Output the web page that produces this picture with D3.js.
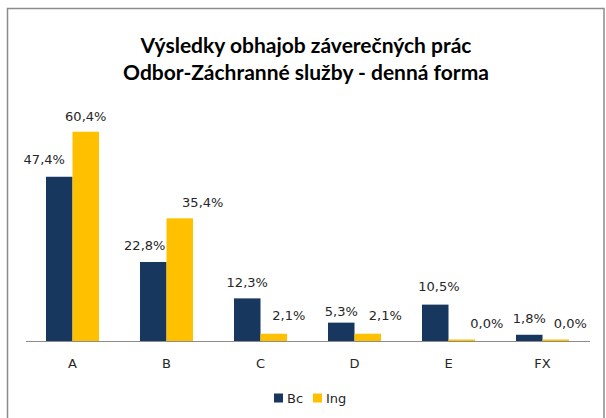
<!DOCTYPE html>
<html>
<head>
<meta charset="utf-8">
<script src="https://cdn.jsdelivr.net/npm/d3@7"></script>
<style>
  body { margin: 0; background: #fff; }
  svg { display: block; }
</style>
</head>
<body>
<div id="chart"></div>
<script>
const categories = ["A", "B", "C", "D", "E", "FX"];
const seriesNames = ["Bc", "Ing"];
const bcValues = [47.4, 22.8, 12.3, 5.3, 10.5, 1.8];
const ingValues = [60.4, 35.4, 2.1, 2.1, 0.0, 0.0];
const titleLines = ["Výsledky obhajob záverečných prác", "Odbor-Záchranné služby - denná forma"];

// label nudges (dx from bar centre, gap above bar top) as placed in the original
const bcLabelShift = [[-15, 13], [-8.5, 11.7], [0, 11.6], [0, 7], [3.7, 14], [0, 12]];
const ingLabelShift = [[0, 11], [23, 11.7], [15, 13.7], [17.5, 13.7], [25, 13], [14.6, 13]];

const colors = { Bc: "#17375E", Ing: "#FFC000" };
const width = 606, height = 418;
const baseY = 341;

const svg = d3.select("#chart").append("svg")
    .attr("width", width)
    .attr("height", height);

// chart frame
svg.append("rect")
    .attr("x", 7.5).attr("y", 8.5)
    .attr("width", 596.5).attr("height", 420)
    .attr("fill", "#fff")
    .attr("stroke", "#8c8c8c")
    .attr("stroke-width", 1.5);

// title
svg.append("g").selectAll("text")
    .data(titleLines)
    .join("text")
    .attr("x", 306)
    .attr("y", (d, i) => 53 + i * 27)
    .attr("text-anchor", "middle")
    .attr("font-family", "Lato, 'Open Sans', sans-serif")
    .attr("font-weight", "bold")
    .attr("font-size", "21px")
    .attr("fill", "#000")
    .text(d => d);

const x0 = d3.scaleBand().domain(categories).range([25.5, 589.5]).paddingInner(0.436).paddingOuter(0.218);
const x1 = d3.scaleBand().domain(seriesNames).range([0, x0.bandwidth()]);
const y = d3.scaleLinear().domain([0, 65]).range([baseY, baseY - 65 * 3.465]);

const rows = categories.map((c, i) => ({
    cat: c,
    vals: [
        { s: "Bc", v: bcValues[i], shift: bcLabelShift[i] },
        { s: "Ing", v: ingValues[i], shift: ingLabelShift[i] }
    ]
}));

const groups = svg.append("g").selectAll("g")
    .data(rows)
    .join("g")
    .attr("transform", d => `translate(${x0(d.cat)},0)`);

groups.selectAll("rect")
    .data(d => d.vals)
    .join("rect")
    .attr("x", d => x1(d.s))
    .attr("width", x1.bandwidth())
    .attr("y", d => Math.min(y(d.v), baseY - 1.5))
    .attr("height", d => Math.max(baseY - y(d.v), 1.5))
    .attr("fill", d => colors[d.s]);

groups.selectAll("text")
    .data(d => d.vals)
    .join("text")
    .attr("x", d => x1(d.s) + x1.bandwidth() / 2 + d.shift[0])
    .attr("y", d => y(d.v) - d.shift[1])
    .attr("text-anchor", "middle")
    .attr("font-family", "'DejaVu Sans', sans-serif")
    .attr("font-size", "13px")
    .attr("fill", "#262626")
    .text(d => d3.format(".1f")(d.v).replace(".", ",") + "%");

// category axis
const axis = svg.append("g")
    .attr("transform", `translate(0,${baseY})`)
    .call(d3.axisBottom(x0).tickSize(0).tickPadding(17.5));
axis.select(".domain").attr("stroke", "#8c8c8c").attr("stroke-width", 1.2);
axis.selectAll("text")
    .attr("font-family", "'DejaVu Sans', sans-serif")
    .attr("font-size", "13px")
    .attr("fill", "#262626");

// legend
const legend = svg.append("g").attr("transform", "translate(274,393.5)");
const legendX = [0, 39];
seriesNames.forEach((s, i) => {
    const g = legend.append("g").attr("transform", `translate(${legendX[i]},0)`);
    g.append("rect").attr("width", 9).attr("height", 9).attr("fill", colors[s]);
    g.append("text")
        .attr("x", 13).attr("y", 9.5)
        .attr("font-family", "'DejaVu Sans', sans-serif")
        .attr("font-size", "13px")
        .attr("fill", "#262626")
        .text(s);
});
</script>
</body>
</html>
